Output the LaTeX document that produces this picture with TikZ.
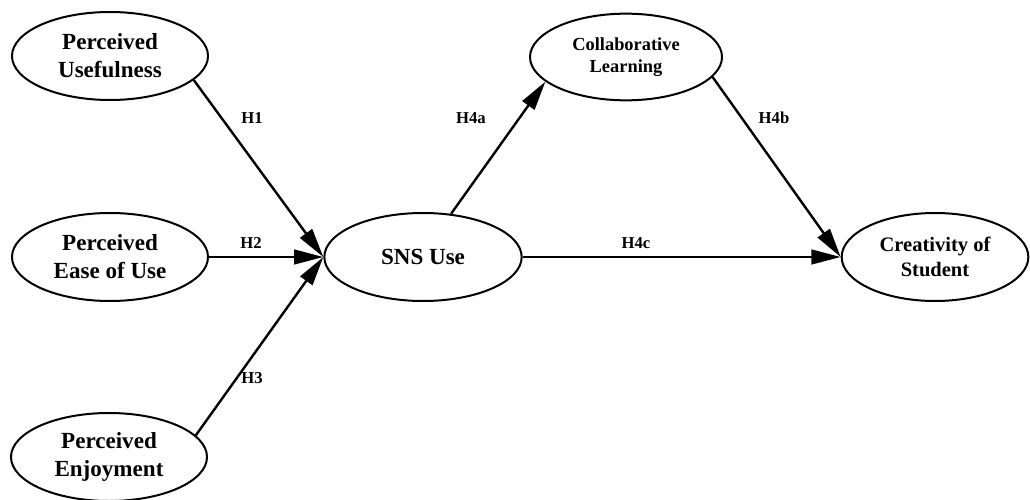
\documentclass[tikz,border=0pt]{standalone}
\usepackage{fontspec}
\setmainfont{Liberation Serif}
\usetikzlibrary{arrows.meta,shapes.geometric}
\begin{document}
\begin{tikzpicture}[x=0.75pt,y=-0.75pt,
  construct/.style={draw,line width=1.5pt,ellipse,inner sep=0pt,align=center,
    font=\bfseries\fontsize{17.3}{21}\selectfont},
  path/.style={line width=1.8pt,-{Triangle[length=22pt,width=11pt]}},
  hyp/.style={font=\bfseries\fontsize{12.5}{14}\selectfont,inner sep=1pt}]
\useasboundingbox (0,0) rectangle (1030,499);
\node[construct,minimum width=147pt,minimum height=66pt] (pu) at (110,56) {Perceived\\Usefulness};
\node[construct,minimum width=147pt,minimum height=66pt] (peou) at (110,257) {Perceived\\Ease of Use};
\node[construct,minimum width=147pt,minimum height=66pt] (pe) at (109,457) {Perceived\\Enjoyment};
\node[construct,minimum width=148pt,minimum height=66pt] (sns) at (423,257) {SNS Use};
\node[construct,minimum width=144pt,minimum height=65pt,font=\bfseries\fontsize{13.8}{17}\selectfont] (cl) at (626,57) {Collaborative\\Learning};
\node[construct,minimum width=140pt,minimum height=66pt,font=\bfseries\fontsize{15.4}{19}\selectfont] (cs) at (935,257) {Creativity of\\Student};
\draw[path] (pu.-16) -- (sns.west);
\draw[path] (peou.east) -- (sns.west);
\draw[path] (pe.14) -- (sns.west);
\draw[path] (sns.57) -- (cl.197);
\draw[path] (cl.-13) -- (cs.west);
\draw[path] (sns.east) -- (cs.west);
\node[hyp] (h1) at (252,118) {H1};
\node[hyp] (h2) at (251,243) {H2};
\node[hyp] (h3) at (252,378) {H3};
\node[hyp] (h4a) at (471,118) {H4a};
\node[hyp] (h4b) at (774,118) {H4b};
\node[hyp] (h4c) at (636,243) {H4c};
\end{tikzpicture}
\end{document}
